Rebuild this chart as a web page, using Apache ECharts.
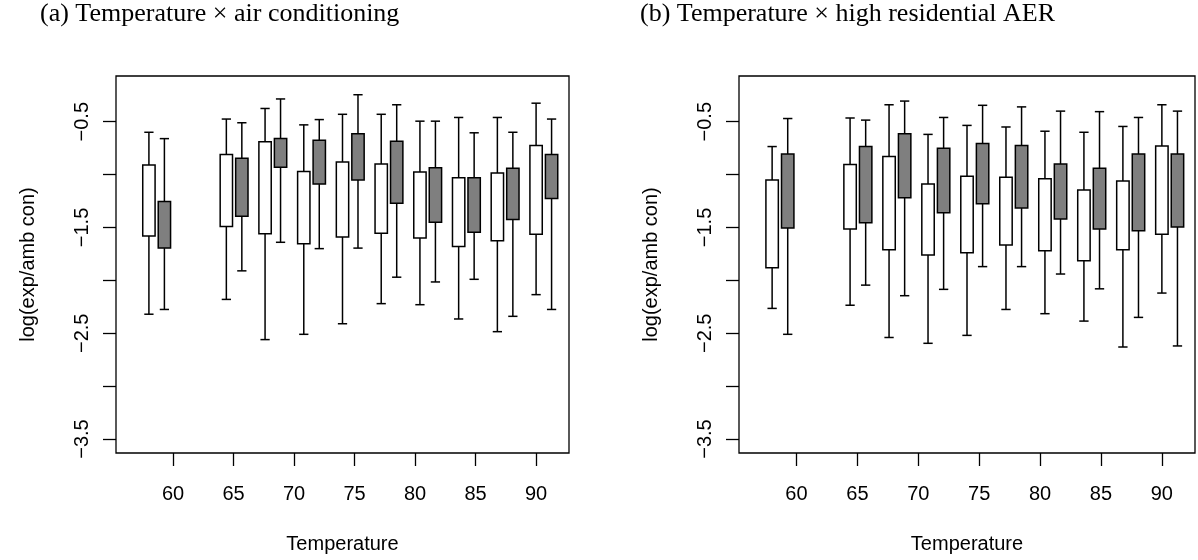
<!DOCTYPE html>
<html>
<head>
<meta charset="utf-8">
<script src="https://cdn.jsdelivr.net/npm/echarts@6/dist/echarts.min.js"></script>
<style>
  html, body { margin: 0; padding: 0; background: #fff; }
  #chart { width: 1198px; height: 560px; }
</style>
</head>
<body>
<div id="chart"></div>
<script>
// Box positions along the temperature axis (white = reference, gray = exposed group)
const whitePos = [58, 64.4, 67.6, 70.8, 74, 77.2, 80.4, 83.6, 86.8, 90];
const grayPos = [59.28, 65.68, 68.88, 72.08, 75.28, 78.48, 81.68, 84.88, 88.08, 91.28];

// x ticks / y ticks
const xTicks = [60, 65, 70, 75, 80, 85, 90];
const yTicks = [-3.5, -3, -2.5, -2, -1.5, -1, -0.5];
const yLabels = [-3.5, -2.5, -1.5, -0.5];

// each row: [lower whisker, Q1, Q3, upper whisker]
// (a) air conditioning
const acWhite = [
  [-2.32, -1.58, -0.91, -0.60],
  [-2.18, -1.49, -0.81, -0.475],
  [-2.56, -1.56, -0.69, -0.375],
  [-2.51, -1.655, -0.97, -0.53],
  [-2.41, -1.59, -0.88, -0.43],
  [-2.22, -1.555, -0.90, -0.43],
  [-2.23, -1.60, -0.975, -0.495],
  [-2.365, -1.68, -1.03, -0.46],
  [-2.485, -1.625, -0.985, -0.46],
  [-2.135, -1.565, -0.725, -0.325]
];
const acGray = [
  [-2.275, -1.695, -1.255, -0.66],
  [-1.91, -1.395, -0.845, -0.51],
  [-1.64, -0.93, -0.66, -0.285],
  [-1.70, -1.09, -0.675, -0.48],
  [-1.695, -1.05, -0.615, -0.245],
  [-1.97, -1.27, -0.685, -0.34],
  [-2.015, -1.45, -0.935, -0.495],
  [-1.99, -1.545, -1.03, -0.605],
  [-2.34, -1.425, -0.94, -0.60],
  [-2.275, -1.225, -0.81, -0.475]
];
// (b) high residential AER
const aerWhite = [
  [-2.265, -1.88, -1.05, -0.735],
  [-2.235, -1.515, -0.905, -0.465],
  [-2.54, -1.71, -0.83, -0.34],
  [-2.595, -1.76, -1.09, -0.62],
  [-2.52, -1.74, -1.015, -0.535],
  [-2.275, -1.665, -1.025, -0.55],
  [-2.315, -1.72, -1.04, -0.59],
  [-2.385, -1.815, -1.145, -0.60],
  [-2.63, -1.71, -1.06, -0.545],
  [-2.12, -1.565, -0.73, -0.34]
];
const aerGray = [
  [-2.51, -1.505, -0.805, -0.47],
  [-2.045, -1.455, -0.735, -0.485],
  [-2.145, -1.22, -0.615, -0.305],
  [-2.085, -1.36, -0.75, -0.46],
  [-1.87, -1.275, -0.705, -0.345],
  [-1.87, -1.315, -0.725, -0.36],
  [-1.94, -1.42, -0.90, -0.40],
  [-2.08, -1.515, -0.94, -0.405],
  [-2.35, -1.53, -0.805, -0.46],
  [-2.62, -1.495, -0.805, -0.40]
];

const BOX_W = 1.02; // box width in degrees
const LINE_W = 1.5;
const sans = 'Liberation Sans, Arial, sans-serif';
const serif = 'Liberation Serif, serif';

const minus = (v) => String(v).replace('-', '\u2212');

function boxRenderer(fill) {
  return function (params, api) {
    const x = api.value(0);
    const pLow = api.coord([x, api.value(1)]);
    const pQ1 = api.coord([x, api.value(2)]);
    const pQ3 = api.coord([x, api.value(3)]);
    const pHigh = api.coord([x, api.value(4)]);
    const half = api.size([BOX_W, 0])[0] / 2;
    const cap = half * 0.75;
    const cx = pLow[0];
    const line = { stroke: '#000', lineWidth: LINE_W };
    return {
      type: 'group',
      children: [
        { type: 'line', shape: { x1: cx, y1: pLow[1], x2: cx, y2: pQ1[1] }, style: line },
        { type: 'line', shape: { x1: cx, y1: pQ3[1], x2: cx, y2: pHigh[1] }, style: line },
        { type: 'line', shape: { x1: cx - cap, y1: pLow[1], x2: cx + cap, y2: pLow[1] }, style: line },
        { type: 'line', shape: { x1: cx - cap, y1: pHigh[1], x2: cx + cap, y2: pHigh[1] }, style: line },
        {
          type: 'rect',
          shape: { x: cx - half, y: pQ3[1], width: half * 2, height: pQ1[1] - pQ3[1] },
          style: { fill: fill, stroke: '#000', lineWidth: LINE_W }
        }
      ]
    };
  };
}

function toData(pos, rows) {
  return rows.map((r, i) => [pos[i], r[0], r[1], r[2], r[3]]);
}

function makeX(idx) {
  return {
    gridIndex: idx,
    type: 'value',
    min: 55.28,
    max: 92.72,
    name: 'Temperature',
    nameLocation: 'middle',
    nameGap: 81,
    nameTextStyle: { fontFamily: sans, fontSize: 20, color: '#000' },
    axisLine: { show: false },
    axisTick: { show: true, inside: false, length: 13, customValues: xTicks, lineStyle: { color: '#000', width: 1.3 } },
    axisLabel: { customValues: xTicks, margin: 31, fontFamily: sans, fontSize: 20, color: '#000' },
    splitLine: { show: false }
  };
}

function makeY(idx) {
  return {
    gridIndex: idx,
    type: 'value',
    min: -3.632,
    max: -0.068,
    name: 'log(exp/amb con)',
    nameLocation: 'middle',
    nameGap: 78,
    nameTextStyle: { fontFamily: sans, fontSize: 20, color: '#000' },
    axisLine: { show: false },
    axisTick: { show: true, inside: false, length: 13, customValues: yTicks, lineStyle: { color: '#000', width: 1.3 } },
    axisLabel: {
      customValues: yLabels,
      rotate: 90,
      margin: 24,
      fontFamily: sans,
      fontSize: 20,
      color: '#000',
      formatter: (v) => minus(v)
    },
    splitLine: { show: false }
  };
}

const chart = echarts.init(document.getElementById('chart'), null, { renderer: 'canvas' });

chart.setOption({
  backgroundColor: '#fff',
  animation: false,
  title: [
    {
      text: '(a) Temperature \u00d7 air conditioning',
      left: 40, top: 1, padding: 0,
      textStyle: { fontFamily: serif, fontSize: 26, fontWeight: 'normal', color: '#000' }
    },
    {
      text: '(b) Temperature \u00d7 high residential AER',
      left: 640, top: 1, padding: 0,
      textStyle: { fontFamily: serif, fontSize: 26, fontWeight: 'normal', color: '#000' }
    }
  ],
  grid: [
    { left: 116, top: 76, width: 453, height: 377, show: true, borderColor: '#000', borderWidth: 1.3, backgroundColor: 'transparent', outerBoundsMode: 'none' },
    { left: 739, top: 76, width: 456, height: 377, show: true, borderColor: '#000', borderWidth: 1.3, backgroundColor: 'transparent', outerBoundsMode: 'none' }
  ],
  xAxis: [makeX(0), makeX(1)],
  yAxis: [makeY(0), makeY(1)],
  series: [
    { type: 'custom', xAxisIndex: 0, yAxisIndex: 0, renderItem: boxRenderer('#fff'), data: toData(whitePos, acWhite) },
    { type: 'custom', xAxisIndex: 0, yAxisIndex: 0, renderItem: boxRenderer('#7f7f7f'), data: toData(grayPos, acGray) },
    { type: 'custom', xAxisIndex: 1, yAxisIndex: 1, renderItem: boxRenderer('#fff'), data: toData(whitePos, aerWhite) },
    { type: 'custom', xAxisIndex: 1, yAxisIndex: 1, renderItem: boxRenderer('#7f7f7f'), data: toData(grayPos, aerGray) }
  ]
});
</script>
</body>
</html>
